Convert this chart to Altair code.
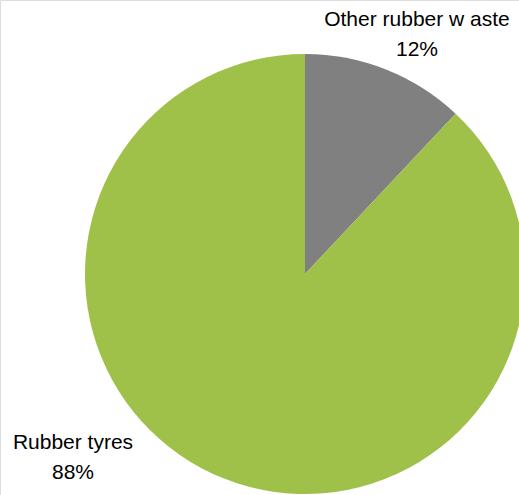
import altair as alt
import pandas as pd

# Composition of rubber waste (share, %)
categories = ["Other rubber w aste", "Rubber tyres"]
shares = [12, 88]
colors = ["#808080", "#9FC14A"]
order = [0, 1]

df = pd.DataFrame({"category": categories, "share": shares, "order": order})

W, H = 519, 495
CX, CY, R = 305, 274, 220

base = alt.Chart(df)

pie = base.mark_arc(stroke=None).encode(
    theta=alt.Theta("share:Q", stack=True),
    order=alt.Order("order:Q"),
    color=alt.Color("category:N",
                    scale=alt.Scale(domain=categories, range=colors),
                    legend=None),
    x=alt.value(CX),
    y=alt.value(CY),
    radius=alt.value(R),
)


def label(cat, x, y):
    return (
        base.transform_filter(alt.datum.category == cat)
        .transform_calculate(lbl=alt.datum.category + "\n" + alt.datum.share + "%")
        .mark_text(font="Liberation Sans", fontSize=21, color="#000000",
                   align="center", baseline="alphabetic", lineBreak="\n",
                   lineHeight=30)
        .encode(text="lbl:N", x=alt.value(x), y=alt.value(y))
    )


chart = alt.layer(
    pie,
    label(categories[0], 417, 26),
    label(categories[1], 73, 449),
).properties(
    width=W, height=H, padding=0,
    autosize=alt.AutoSizeParams(type="none"),
).configure_view(stroke=None).configure(background="white")

chart.save("out.html", embed_options={"renderer": "svg", "actions": False})
